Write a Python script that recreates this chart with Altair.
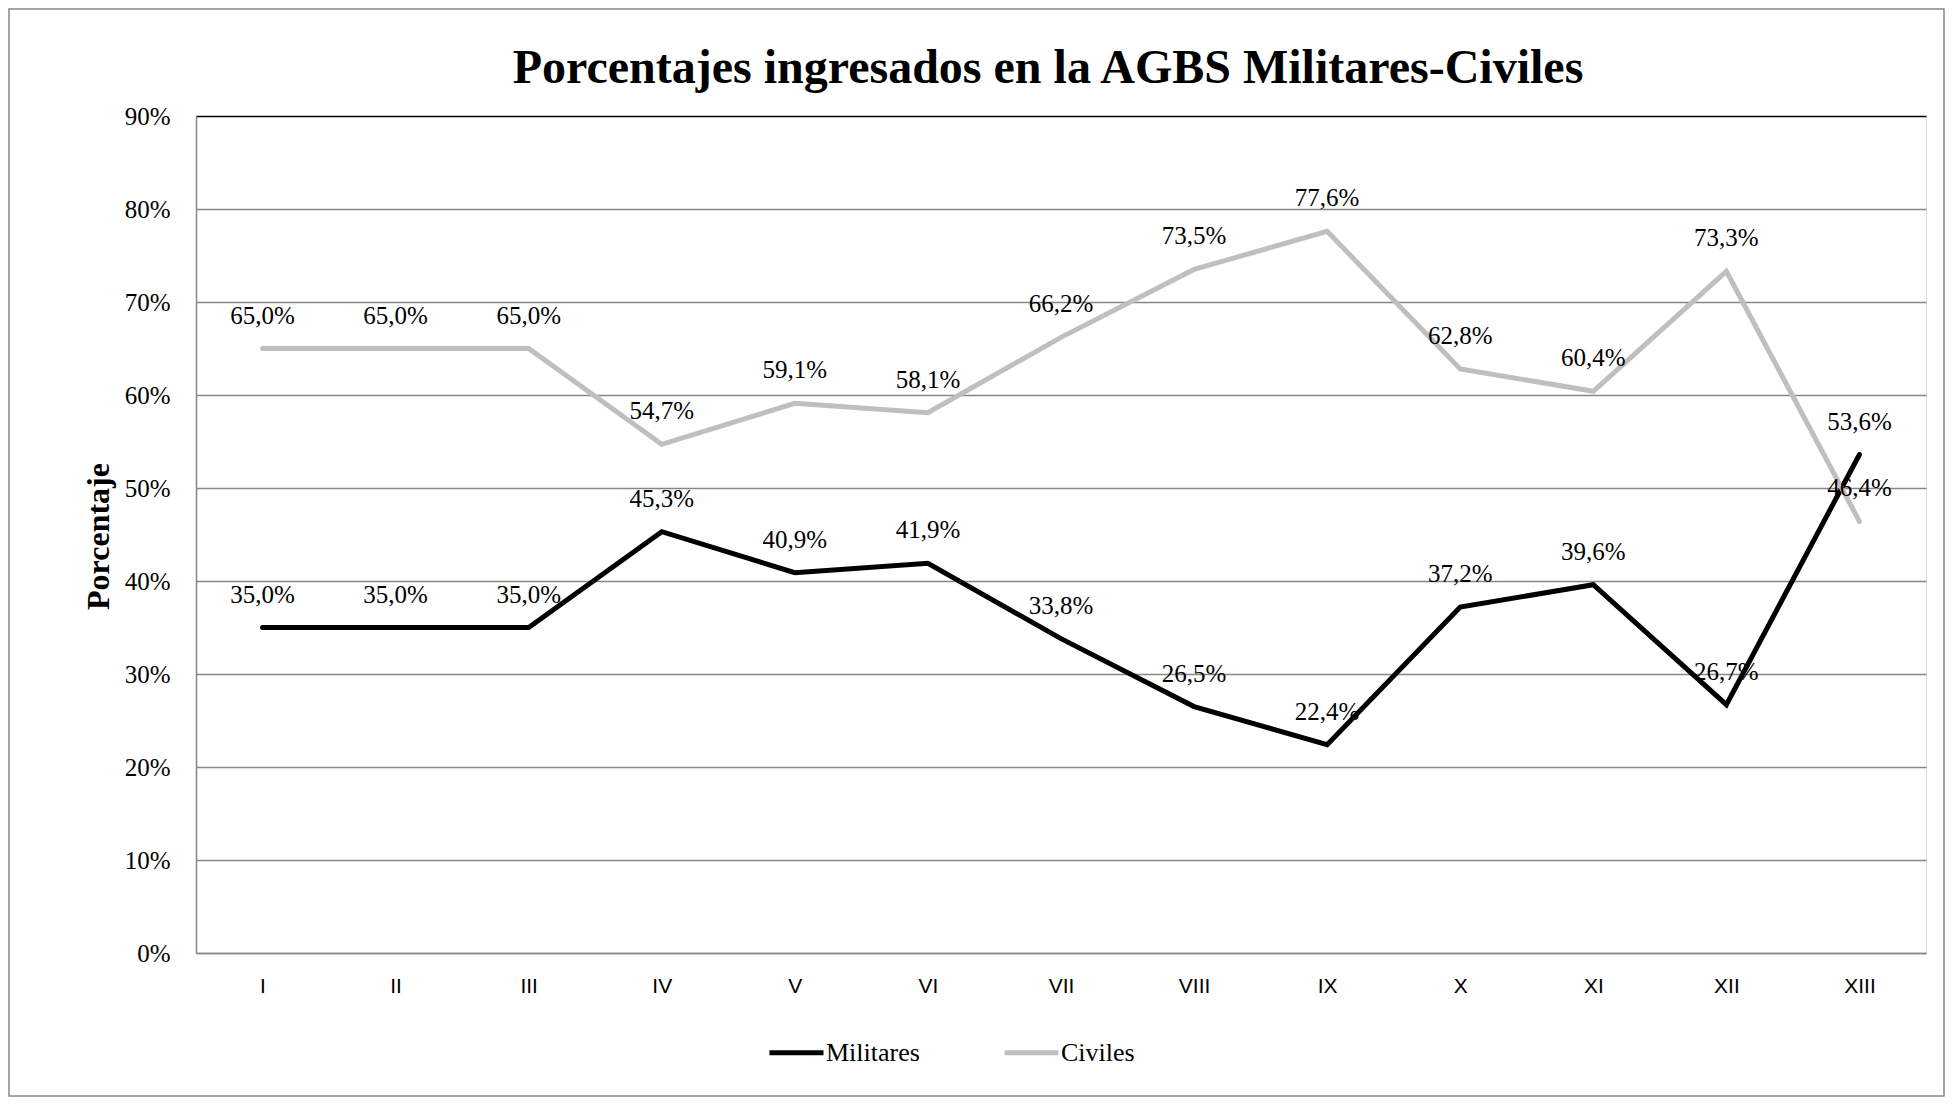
import altair as alt
import pandas as pd

categorias = ["I", "II", "III", "IV", "V", "VI", "VII", "VIII", "IX", "X", "XI", "XII", "XIII"]
militares = [35.0, 35.0, 35.0, 45.3, 40.9, 41.9, 33.8, 26.5, 22.4, 37.2, 39.6, 26.7, 53.6]
civiles = [65.0, 65.0, 65.0, 54.7, 59.1, 58.1, 66.2, 73.5, 77.6, 62.8, 60.4, 73.3, 46.4]
series = ["Militares", "Civiles"]
colores = ["#000000", "#BFBFBF"]
ticks_y = [0, 10, 20, 30, 40, 50, 60, 70, 80, 90]
titulo = "Porcentajes ingresados en la AGBS Militares-Civiles"

rows = []
for s, vals in zip(series, [militares, civiles]):
    for c, v in zip(categorias, vals):
        rows.append({"categoria": c, "serie": s, "valor": v})
df = pd.DataFrame(rows)

SERIF = "'Times New Roman', 'Liberation Serif', Tinos, 'DejaVu Serif', serif"
SANS = "Arial, 'Liberation Sans', sans-serif"
GRAY = "#868686"

x = alt.X(
    "categoria:N",
    sort=categorias,
    scale=alt.Scale(type="point", padding=0.5),
    axis=alt.Axis(
        title=None, labelFont=SANS, labelFontSize=21, labelColor="#000",
        labelPadding=22, ticks=False, domainColor=GRAY, domainWidth=1.5,
        labelAngle=0, grid=False,
    ),
)
y = alt.Y(
    "valor:Q",
    scale=alt.Scale(domain=[0, 90], nice=False, zero=True),
    axis=alt.Axis(
        values=ticks_y, labelExpr="datum.value + '%'", title="Porcentaje",
        titleFont=SERIF, titleFontSize=32, titleFontWeight="bold", titleColor="#000",
        titleAngle=270, titleX=-98, titleY=420, titleAlign="center", titleBaseline="middle",
        labelFont=SERIF, labelFontSize=25, labelColor="#000", labelPadding=26,
        ticks=False, domainColor=GRAY, domainWidth=1.5,
        grid=True, gridWidth=1.5,
        gridColor=alt.condition("datum.value == 90", alt.value("#000000"), alt.value(GRAY)),
    ),
)
color = alt.Color(
    "serie:N",
    sort=series,
    scale=alt.Scale(domain=series, range=colores),
    legend=alt.Legend(
        title=None, orient="none", legendX=571, legendY=907, direction="horizontal",
        symbolType="stroke", symbolSize=2916, symbolStrokeWidth=5,
        labelFont=SERIF, labelFontSize=26, labelColor="#000", labelOffset=0,
        columnPadding=74,
    ),
)

base = alt.Chart(df)
lines = base.mark_line(strokeWidth=5, strokeCap="round").encode(x=x, y=y, color=color, detail="serie:N")
labels = base.mark_text(font=SERIF, fontSize=25, color="#000", dy=-33, baseline="middle").encode(
    x=alt.X("categoria:N", sort=categorias),
    y=alt.Y("valor:Q"),
    text=alt.Text("etiqueta:N"),
).transform_calculate(etiqueta="replace(format(datum.valor, '.1f'), '.', ',') + '%'")

border = alt.Chart(pd.DataFrame({"a": [0]})).mark_rect(
    fill="transparent", stroke=GRAY, strokeWidth=1.5
).encode(x=alt.value(-187), x2=alt.value(1748), y=alt.value(-107), y2=alt.value(980))

title_mark = alt.Chart(pd.DataFrame({"t": [titulo]})).mark_text(
    font=SERIF, fontSize=48, fontWeight="bold", color="#000",
    align="center", baseline="alphabetic",
).encode(text="t:N", x=alt.value(852), y=alt.value(-33))

chart = alt.layer(border, lines, labels, title_mark).properties(
    width=1730,
    height=837,
    autosize=alt.AutoSizeParams(type="none"),
    padding={"left": 188, "top": 108, "right": 20, "bottom": 145},
).configure_view(stroke="#000", strokeWidth=1.5).configure(background="#ffffff")

chart.save("out.html", embed_options={"renderer": "svg", "actions": False})
